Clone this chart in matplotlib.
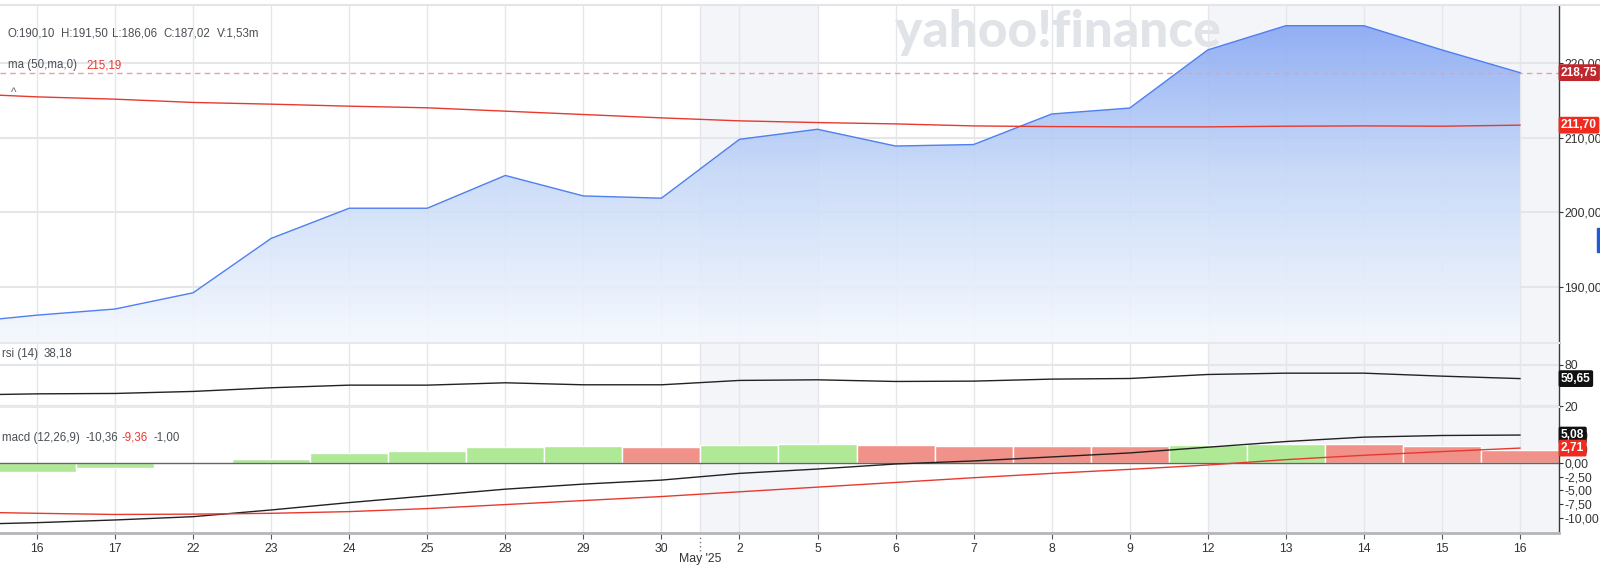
import numpy as np
import matplotlib
matplotlib.use("Agg")
import matplotlib.pyplot as plt
from matplotlib.colors import LinearSegmentedColormap
from matplotlib.transforms import blended_transform_factory
from matplotlib.patches import Rectangle
from matplotlib.lines import Line2D
from matplotlib.ticker import FuncFormatter, FixedLocator

plt.rcParams["font.family"] = ["Liberation Sans", "DejaVu Sans"]

# daily data, Apr 15 (off screen on the left) .. May 16
dates = ["15", "16", "17", "22", "23", "24", "25", "28", "29", "30", "2",
         "5", "6", "7", "8", "9", "12", "13", "14", "15", "16"]
close = [185.15, 186.2, 187.02, 189.2, 196.5, 200.55, 200.55, 204.95, 202.2, 201.9, 209.8,
         211.15, 208.9, 209.1, 213.2, 214.0, 221.8, 225.05, 225.05, 221.8, 218.75]
ma50 = [215.96, 215.5, 215.19, 214.75, 214.52, 214.25, 214.03, 213.58, 213.13, 212.68, 212.28,
        212.05, 211.87, 211.6, 211.51, 211.47, 211.47, 211.56, 211.6, 211.56, 211.7]
rsi = [35.8, 37.6, 38.18, 41.1, 46.4, 50.2, 50.2, 53.6, 50.7, 50.7, 57.0,
       57.9, 55.5, 56.0, 58.9, 59.8, 65.6, 67.5, 67.5, 63.2, 59.65]
macd = [-11.2, -10.85, -10.36, -9.76, -8.54, -7.2, -5.98, -4.76, -3.84, -3.11, -1.89,
        -1.1, -0.18, 0.37, 1.1, 1.83, 2.87, 3.9, 4.7, 5.0, 5.08]
signal = [-8.9, -9.15, -9.36, -9.3, -9.15, -8.84, -8.29, -7.56, -6.83, -6.1, -5.24,
          -4.39, -3.54, -2.68, -1.89, -1.16, -0.37, 0.61, 1.4, 2.07, 2.71]
hist = [-2.3, -1.7, -1.0, -0.15, 0.75, 1.75, 2.2, 2.85, 3.02, 2.98, 3.3,
        3.42, 3.3, 3.15, 3.1, 3.0, 3.28, 3.42, 3.4, 3.0, 2.37]

month_start = 9.5          # between Apr 30 and May 2
shaded = [(9.5, 11), (16, 20.5)]

W, H = 1600, 568
GRID = "#e4e6ea"
TXT = "#4a4f55"
RED = "#e8392f"
TICK_FS = 8.8

fig = plt.figure(figsize=(16, 5.68), dpi=100)


def add_ax(top, bottom):
    return fig.add_axes([0, 1 - bottom / H, 1559 / W, (bottom - top) / H])


def fmt(v, p=None):
    return f"{v:.2f}".replace(".", ",")


def tag(ax, value, text, color):
    tr = blended_transform_factory(ax.transAxes, ax.transData)
    ax.text(1.0 + 2 / 1559, value, text, transform=tr, ha="left", va="center",
            color="white", fontsize=8.6, fontweight="bold", clip_on=False, zorder=10,
            bbox=dict(boxstyle="round,pad=0.2,rounding_size=0.15", fc=color, ec="none"))


x = np.arange(len(dates))
xlim = (0.526, 20.5)

ax_p = add_ax(5, 343)
ax_r = add_ax(343, 407)
ax_m = add_ax(407, 533)

for ax in (ax_p, ax_r, ax_m):
    ax.set_axisbelow(True)
    for a, b in shaded:
        ax.axvspan(a, b, color="#f4f5f9", zorder=0, lw=0)
    ax.set_xticks(x)
    ax.xaxis.set_minor_locator(FixedLocator([month_start]))
    ax.grid(axis="x", which="both", color=GRID, lw=1)
    for s in ("left", "bottom", "top"):
        ax.spines[s].set_visible(False)
    ax.spines["right"].set_color("#3a3a3a")
    ax.spines["right"].set_linewidth(1)
    ax.yaxis.tick_right()
    ax.tick_params(axis="y", length=3, pad=1, labelsize=TICK_FS, colors="#333333")
    ax.tick_params(axis="x", which="both", length=0, labelbottom=False)
    ax.yaxis.set_major_formatter(FuncFormatter(fmt))
    ax.set_facecolor("none")

# price panel
ylo, yhi = 182.46, 227.83
poly = ax_p.fill_between(x, close, ylo, color="none", lw=0)
grad = np.linspace(0, 1, 256).reshape(-1, 1)
cmap = LinearSegmentedColormap.from_list("g", ["#f5f8fe", "#c6d9f8", "#7fa1f3"])
im = ax_p.imshow(grad, aspect="auto", cmap=cmap, origin="lower", alpha=0.9,
                 extent=[xlim[0], xlim[1], ylo, yhi], zorder=1)
im.set_clip_path(poly.get_paths()[0], transform=ax_p.transData)
ax_p.plot(x, close, color="#4f7ff0", lw=1.0, zorder=3)
ax_p.plot(x, ma50, color=RED, lw=1.0, zorder=3)
ax_p.axhline(close[-1], color="#e8a0a0", lw=1, ls=(0, (4, 3)), zorder=2.5)
ax_p.set_ylim(ylo, yhi)
ax_p.set_yticks([190, 200, 210, 220])
ax_p.grid(axis="y", color=GRID, lw=1.5)
tag(ax_p, close[-1], fmt(close[-1]), "#c0272d")
tag(ax_p, ma50[-1], fmt(ma50[-1]), "#f02a1f")
ax_p.text(1058 / W, 1 - 32 / H, "yahoo!finance", transform=fig.transFigure,
          family=["Lato", "DejaVu Sans"], fontweight="black", fontsize=37,
          color="#e0e3e7", ha="center", va="center", zorder=0.5)

# rsi panel
ax_r.plot(x, rsi, color="#222222", lw=1.0, zorder=3)
ax_r.set_ylim(18.6, 111.1)
ax_r.set_yticks([20, 80])
ax_r.yaxis.set_major_formatter(FuncFormatter(lambda v, p: f"{v:.0f}"))
ax_r.grid(axis="y", color=GRID, lw=1.5)
ax_r.spines["top"].set_visible(True)
ax_r.spines["top"].set_color("#e6e8eb")
ax_r.spines["top"].set_linewidth(1.5)
tag(ax_r, rsi[-1], fmt(rsi[-1]), "#111111")

# macd panel
cols = ["#afe996" if i == 0 or hist[i] >= hist[i - 1] else "#f0928a" for i in range(len(hist))]
ax_m.bar(x, hist, width=1.0, color=cols, edgecolor="white", lw=1, zorder=2)
ax_m.axhline(0, color="#5d6a60", lw=1, zorder=2.5)
ax_m.plot(x, macd, color="#222222", lw=1.0, zorder=3)
ax_m.plot(x, signal, color=RED, lw=1.0, zorder=3)
ax_m.set_ylim(-12.73, 10.18)
ax_m.set_yticks([5, 2.5, 0, -2.5, -5, -7.5, -10])
ax_m.spines["top"].set_visible(True)
ax_m.spines["top"].set_color("#e6e8eb")
ax_m.spines["top"].set_linewidth(1.5)
ax_m.spines["bottom"].set_visible(True)
ax_m.spines["bottom"].set_color("#b4b6ba")
ax_m.spines["bottom"].set_linewidth(2)
ax_m.set_xticklabels(dates)
ax_m.tick_params(axis="x", which="major", length=4, color="#555555", pad=3,
                 labelbottom=True, labelsize=TICK_FS, labelcolor="#333333")
tag(ax_m, macd[-1], fmt(macd[-1]), "#111111")
tag(ax_m, signal[-1], fmt(signal[-1]), "#f02a1f")

# limits last, bars and images rescale the axes
for ax in (ax_p, ax_r, ax_m):
    ax.set_xlim(*xlim)

trm = blended_transform_factory(ax_m.transData, ax_m.transAxes)
ax_m.plot([month_start, month_start], [0, -0.14], transform=trm, color="#777777",
          lw=1, ls=(0, (1, 2)), clip_on=False)
ax_m.text(month_start, -0.205, "May '25", transform=trm, ha="center", va="center",
          fontsize=TICK_FS, color="#333333", clip_on=False)
ax_m.set_xlim(*xlim)

# legends in the top-left corners
def label(px, py, s, color=TXT):
    fig.text(px / W, 1 - py / H, s, color=color, fontsize=8.3, ha="left", va="center")

label(8, 34, "O:190,10")
label(61, 34, "H:191,50")
label(112, 34, "L:186,06")
label(163, 34, "C:187,02")
label(217, 34, "V:1,53m")
label(8, 65, "ma (50,ma,0)")
label(86, 65, "215,19", RED)
label(11, 93, "^", "#666666")
label(2, 354, "rsi (14)")
label(44, 354, "38,18")
label(2, 438, "macd (12,26,9)")
label(86, 438, "-10,36")
label(122, 438, "-9,36", RED)
label(153, 438, "-1,00")

fig.add_artist(Line2D([0, 1], [1 - 4.5 / H] * 2, color="#e3e5e8", lw=1.5))
fig.add_artist(Rectangle((1597 / W, 1 - 252 / H), 6 / W, 24 / H, color="#1f5bd6",
                         transform=fig.transFigure))

fig.savefig("out.png", dpi=100, facecolor="white")
